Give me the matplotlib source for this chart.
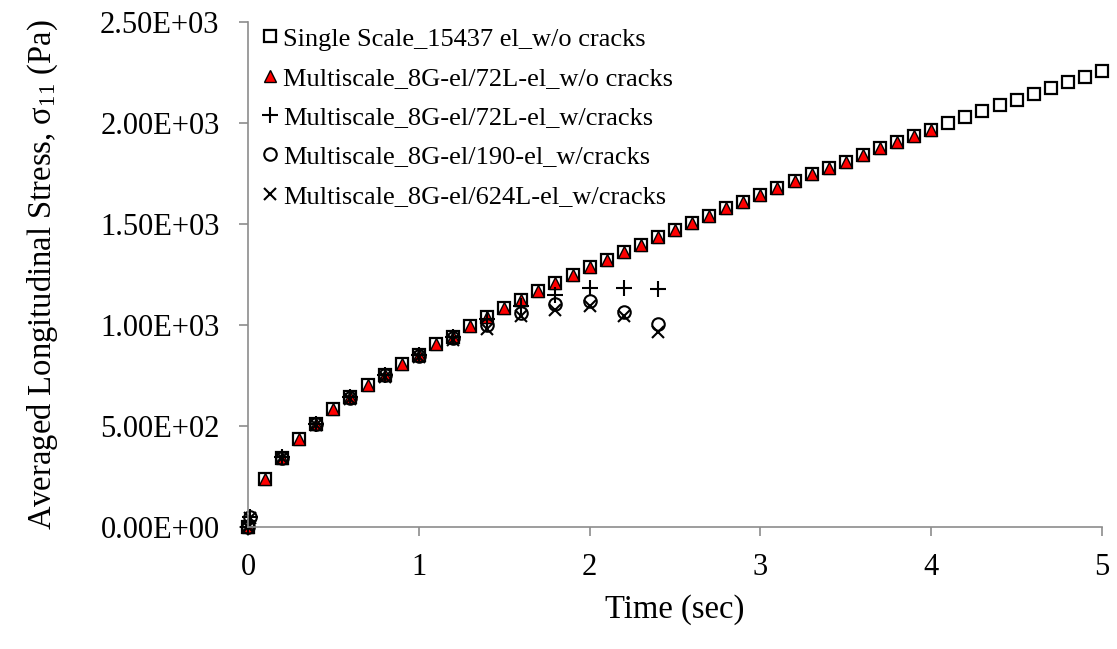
import matplotlib
matplotlib.use('Agg')
import matplotlib.pyplot as plt
from matplotlib.ticker import FuncFormatter

plt.rcParams['font.family'] = ['Liberation Serif', 'DejaVu Serif']
plt.rcParams['mathtext.fontset'] = 'custom'
plt.rcParams['mathtext.rm'] = 'Liberation Serif'
plt.rcParams['mathtext.it'] = 'Liberation Serif:italic'

# single scale run, t = 0 .. 5 s
t_single = [0.0, 0.1, 0.2, 0.3, 0.4, 0.5, 0.6, 0.7, 0.8, 0.9, 1.0,
            1.1, 1.2, 1.3, 1.4, 1.5, 1.6, 1.7, 1.8, 1.9, 2.0,
            2.1, 2.2, 2.3, 2.4, 2.5, 2.6, 2.7, 2.8, 2.9, 3.0,
            3.1, 3.2, 3.3, 3.4, 3.5, 3.6, 3.7, 3.8, 3.9, 4.0,
            4.1, 4.2, 4.3, 4.4, 4.5, 4.6, 4.7, 4.8, 4.9, 5.0]
s_single = [0, 236, 343, 436, 511, 582, 643, 703, 753, 809, 852,
            905, 941, 997, 1040, 1085, 1126, 1166, 1207, 1249, 1285,
            1323, 1362, 1398, 1435, 1470, 1506, 1541, 1577, 1610, 1643,
            1680, 1713, 1746, 1779, 1809, 1842, 1876, 1905, 1937, 1967,
            1998, 2028, 2058, 2087, 2114, 2144, 2174, 2202, 2230, 2257]

# multiscale without cracks, t = 0 .. 4 s
t_ms = t_single[:41]
s_ms = s_single[:41]

# multiscale runs with cracks
t_crack = [0.0, 0.01, 0.2, 0.4, 0.6, 0.8, 1.0, 1.2, 1.4, 1.6, 1.8, 2.0, 2.2, 2.4]
s_72L = [0, 50, 345, 512, 643, 755, 852, 940, 1030, 1096, 1149, 1182, 1184, 1176]
s_190 = [0, 48, 343, 510, 640, 752, 848, 935, 1000, 1060, 1104, 1121, 1066, 1005]
s_624L = [0, 45, 340, 505, 635, 745, 842, 925, 980, 1043, 1076, 1096, 1046, 964]

labels = ['Single Scale_15437 el_w/o cracks',
          'Multiscale_8G-el/72L-el_w/o cracks',
          'Multiscale_8G-el/72L-el_w/cracks',
          'Multiscale_8G-el/190-el_w/cracks',
          'Multiscale_8G-el/624L-el_w/cracks']

fig = plt.figure(figsize=(11.17, 6.49), dpi=100)
ax = fig.add_axes([0.222, 0.188, 0.7646, 0.778])

ax.plot(t_single, s_single, ls='none', marker='s', ms=9, mfc='white',
        mec='black', mew=1.6, label=labels[0])
ax.plot(t_ms, s_ms, ls='none', marker='^', ms=9, mfc='red',
        mec='black', mew=1.0, label=labels[1])
ax.plot(t_crack, s_72L, ls='none', marker='+', ms=12, mec='black',
        mew=1.5, label=labels[2])
ax.plot(t_crack, s_190, ls='none', marker='o', ms=9, mfc='none',
        mec='black', mew=1.5, label=labels[3])
ax.plot(t_crack, s_624L, ls='none', marker='x', ms=9, mec='black',
        mew=1.5, label=labels[4])

ax.set_xlim(0, 5)
ax.set_ylim(0, 2500)
ax.set_xticks([0, 1, 2, 3, 4, 5])
ax.set_yticks([0, 500, 1000, 1500, 2000, 2500])
ax.yaxis.set_major_formatter(FuncFormatter(lambda v, p: f'{v:.2E}'))

for s in ['top', 'right']:
    ax.spines[s].set_visible(False)
for s in ['left', 'bottom']:
    ax.spines[s].set_color('#8c8c8c')
    ax.spines[s].set_linewidth(1.2)
ax.tick_params(axis='both', direction='out', length=6.5, width=1.2,
               color='#8c8c8c', labelsize=22, labelcolor='black')
ax.tick_params(axis='y', pad=14)
ax.tick_params(axis='x', pad=12)

ax.set_xlabel('Time (sec)', fontsize=23.5, labelpad=9)
ax.set_ylabel(r'Averaged Longitudinal Stress, σ$_{11}$ (Pa)', fontsize=23.5,
              labelpad=29)

ax.legend(loc='upper left', bbox_to_anchor=(0.0164, 0.99), frameon=False,
          fontsize=19, handlelength=0.6, handletextpad=0.19,
          labelspacing=0.6, borderpad=0, borderaxespad=0)

for line in ax.lines:
    line.set_clip_on(False)

fig.savefig('out.png', dpi=100)
